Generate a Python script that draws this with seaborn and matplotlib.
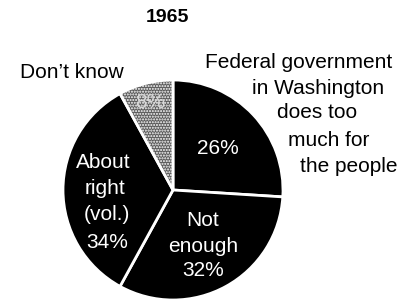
import numpy as np
import matplotlib.pyplot as plt
import seaborn as sns

# ── Data ───────────────────────────────
categories = ["Too much", "Not enough", "About right (vol.)", "Don't know"]
shares = [26, 32, 34, 8]
slice_colors = ["black", "black", "black", "#5a5a5a"]
title = "1965"

sns.set_theme(style="white")
plt.rcParams["font.family"] = ["Liberation Sans", "DejaVu Sans"]
plt.rcParams["text.color"] = "black"

W, H = 415, 301

fig = plt.figure(figsize=(W / 100, H / 100), dpi=100)
ax = fig.add_axes([0, 0, 1, 1])

# pie in pixel-like coordinates (y measured from the bottom)
cx, cy, r = 173, H - 190, 110
wedges, _ = ax.pie(shares, colors=slice_colors, startangle=90, counterclock=False,
                   center=(cx, cy), radius=r,
                   wedgeprops=dict(edgecolor="white", linewidth=2))
wedges[3].set_hatch("......")
ax.set_xlim(0, W)
ax.set_ylim(0, H)
ax.set_aspect("equal")
ax.axis("off")


def put(x, y, s, **kw):
    ax.text(x, H - y, s, va="center", **kw)


fs = 15
put(167, 18, title, ha="center", fontsize=14, fontweight="bold", color="black")
put(20, 72, "Don\u2019t know", ha="left", fontsize=fs, color="black")

right_lines = ["Federal government", "in Washington", "does too",
               "much for", "the people"]
right_x = [205, 252, 277, 288, 300]
right_y = [63, 88, 113, 141, 167]
for s, x, y in zip(right_lines, right_x, right_y):
    put(x, y, s, ha="left", fontsize=fs, color="black")

inner = dict(ha="center", fontsize=fs, color="white")
put(218, 148, f"{shares[0]}%", **inner)
for s, y in zip(["Not", "enough", f"{shares[1]}%"], [220, 246, 270]):
    put(203, y, s, **inner)
for s, x, y in zip(["About", "right", "(vol.)", f"{shares[2]}%"],
                   [103, 105, 107, 107], [162, 188, 215, 242]):
    put(x, y, s, **inner)
put(150, 103, f"{shares[3]}%", ha="center", fontsize=fs, color="#d8d8d8")

fig.savefig("out.png", dpi=100)
